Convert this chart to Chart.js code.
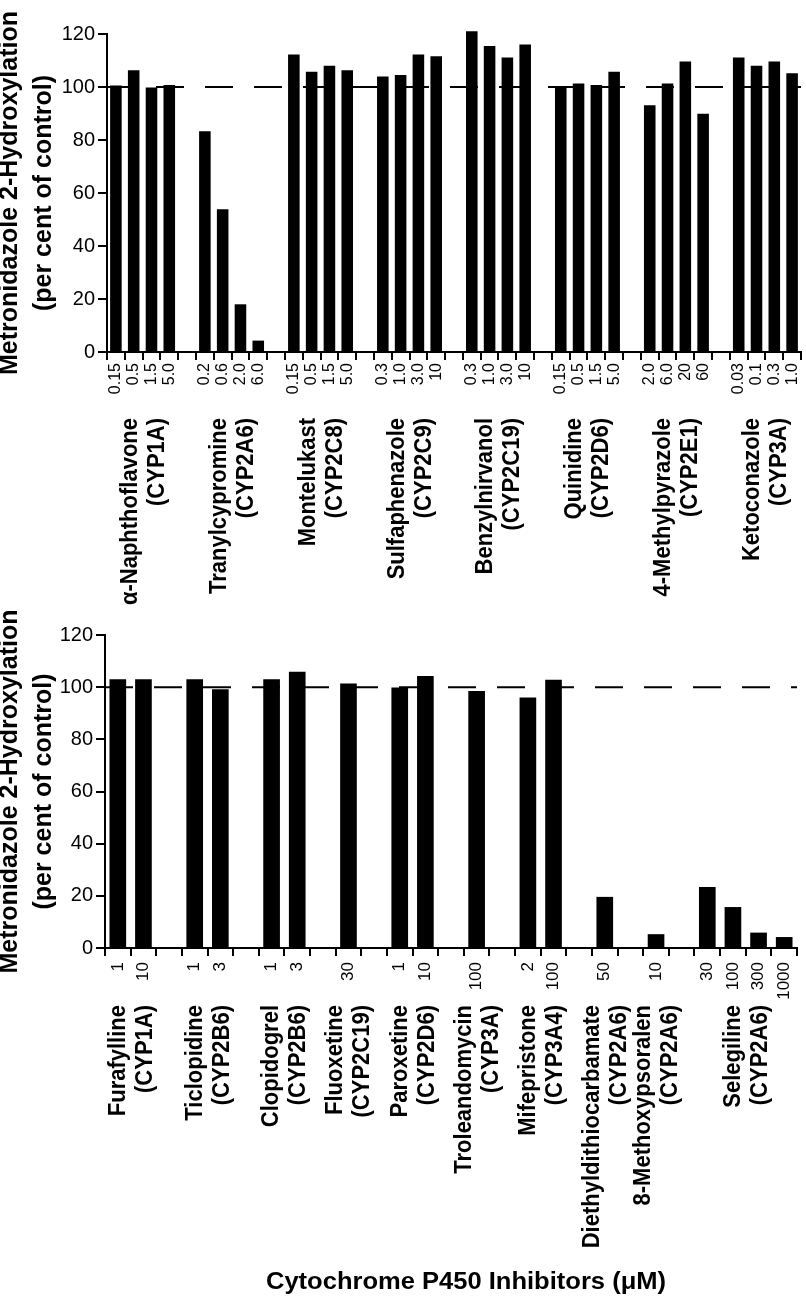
<!DOCTYPE html>
<html>
<head>
<meta charset="utf-8">
<script src="https://cdn.jsdelivr.net/npm/chart.js@4.4.1/dist/chart.umd.min.js"></script>
<style>
  html, body { margin: 0; padding: 0; background: #fff; }
  #wrap { position: relative; width: 806px; height: 1303px; }
  #topBox { position: absolute; left: 0; top: 0; width: 806px; height: 620px; }
  #botBox { position: absolute; left: 0; top: 590px; width: 806px; height: 713px; }
</style>
</head>
<body>
<div id="wrap">
  <div id="topBox"><canvas id="topChart" width="806" height="620"></canvas></div>
  <div id="botBox"><canvas id="botChart" width="806" height="713"></canvas></div>
</div>
<script>
// ---- data: upper panel ----
const topInhibitors = ['α-Naphthoflavone', 'Tranylcypromine', 'Montelukast', 'Sulfaphenazole',
                       'Benzylnirvanol', 'Quinidine', '4-Methylpyrazole', 'Ketoconazole'];
const topEnzymes = ['(CYP1A)', '(CYP2A6)', '(CYP2C8)', '(CYP2C9)', '(CYP2C19)', '(CYP2D6)', '(CYP2E1)', '(CYP3A)'];
const topDoses = [
  ['0.15', '0.5', '1.5', '5.0'],
  ['0.2', '0.6', '2.0', '6.0'],
  ['0.15', '0.5', '1.5', '5.0'],
  ['0.3', '1.0', '3.0', '10'],
  ['0.3', '1.0', '3.0', '10'],
  ['0.15', '0.5', '1.5', '5.0'],
  ['2.0', '6.0', '20', '60'],
  ['0.03', '0.1', '0.3', '1.0']
];
const topValues = [
  [100.6, 106.3, 99.8, 100.8],
  [83.3, 53.9, 18.0, 4.3],
  [112.3, 105.8, 108.0, 106.3],
  [104.0, 104.5, 112.3, 111.6],
  [121.0, 115.5, 111.1, 116.0],
  [100.2, 101.3, 100.8, 105.8],
  [93.1, 101.3, 109.6, 89.9],
  [111.1, 108.0, 109.6, 105.2]
];

// ---- data: lower panel ----
const bottomInhibitors = ['Furafylline', 'Ticlopidine', 'Clopidogrel', 'Fluoxetine', 'Paroxetine',
                          'Troleandomycin', 'Mifepristone', 'Diethyldithiocarbamate', '8-Methoxypsoralen', 'Selegiline'];
const bottomEnzymes = ['(CYP1A)', '(CYP2B6)', '(CYP2B6)', '(CYP2C19)', '(CYP2D6)',
                       '(CYP3A)', '(CYP3A4)', '(CYP2A6)', '(CYP2A6)', '(CYP2A6)'];
const bottomDoses = [['1', '10'], ['1', '3'], ['1', '3'], ['30'], ['1', '10'],
                     ['100'], ['2', '100'], ['50'], ['10'], ['30', '100', '300', '1000']];
const bottomValues = [[103.0, 103.0], [103.0, 99.2], [103.0, 105.9], [101.4], [99.9, 104.3],
                      [98.5], [96.0, 102.8], [19.6], [5.3], [23.4, 15.7, 5.9, 4.2]];

const yTicks = [0, 20, 40, 60, 80, 100, 120];
const controlLevel = 100;
const yTitle = ['Metronidazole 2-Hydroxylation', '(per cent of control)'];
const xTitle = 'Cytochrome P450 Inhibitors (\u03bcM)';

const FONT = '"Liberation Sans", Arial, Helvetica, sans-serif';

// flatten groups into one category axis, one empty slot between groups
function layoutGroups(doses, values) {
  const labels = [], data = [], spans = [];
  doses.forEach((d, g) => {
    if (g > 0) { labels.push(''); data.push(null); }
    const first = labels.length;
    d.forEach((lab, i) => { labels.push(lab); data.push(values[g][i]); });
    spans.push([first, labels.length - 1]);
  });
  return { labels, data, spans };
}

// dashed 100% line behind the bars
const controlLine = {
  id: 'controlLine',
  beforeDatasetsDraw(chart) {
    const { ctx, chartArea, scales } = chart;
    const y = scales.y.getPixelForValue(controlLevel);
    ctx.save();
    ctx.strokeStyle = '#000';
    ctx.lineWidth = 2;
    ctx.setLineDash([28, 21]);
    ctx.beginPath();
    ctx.moveTo(chartArea.left, y);
    ctx.lineTo(chartArea.right, y);
    ctx.stroke();
    ctx.restore();
  }
};

// rotated y-axis title, two lines
const yTitlePlugin = {
  id: 'yTitlePlugin',
  afterDraw(chart) {
    const { ctx, chartArea } = chart;
    const cy = (chartArea.top + chartArea.bottom) / 2;
    ctx.save();
    ctx.fillStyle = '#000';
    ctx.font = 'bold 25px ' + FONT;
    ctx.textAlign = 'center';
    ctx.textBaseline = 'alphabetic';
    [17, 51].forEach((bx, i) => {
      ctx.save();
      ctx.translate(bx, cy);
      ctx.rotate(-Math.PI / 2);
      ctx.fillText(yTitle[i], 0, 0);
      ctx.restore();
    });
    ctx.restore();
  }
};

// inhibitor name + enzyme under each group, rotated
function groupLabelPlugin(names, enzymes, spans, topY) {
  return {
    id: 'groupLabels',
    afterDraw(chart) {
      const { ctx } = chart;
      const x = chart.scales.x;
      ctx.save();
      ctx.fillStyle = '#000';
      ctx.font = 'bold 22px ' + FONT;
      ctx.textAlign = 'right';
      ctx.textBaseline = 'alphabetic';
      spans.forEach((s, g) => {
        const cx = (x.getPixelForValue(s[0]) + x.getPixelForValue(s[1])) / 2;
        [[names[g], cx - 6], [enzymes[g], cx + 21]].forEach(([txt, bx]) => {
          ctx.save();
          ctx.translate(bx, topY);
          ctx.scale(1.1, 1);
          ctx.rotate(-Math.PI / 2);
          ctx.fillText(txt, 0, 0);
          ctx.restore();
        });
      });
      ctx.restore();
    }
  };
}

const xTitlePlugin = {
  id: 'xTitlePlugin',
  afterDraw(chart) {
    const { ctx } = chart;
    ctx.save();
    ctx.fillStyle = '#000';
    ctx.font = 'bold 23px ' + FONT;
    ctx.textAlign = 'center';
    ctx.textBaseline = 'alphabetic';
    ctx.translate(466, 699);
    ctx.scale(1.11, 1);
    ctx.fillText(xTitle, 0, 0);
    ctx.restore();
  }
};

function makeChart(id, built, cfg, extraPlugins) {
  return new Chart(document.getElementById(id), {
    type: 'bar',
    data: {
      labels: built.labels,
      datasets: [{
        data: built.data,
        backgroundColor: '#000',
        borderWidth: 0,
        barPercentage: 0.65,
        categoryPercentage: 1,
        clip: false
      }]
    },
    options: {
      responsive: false,
      animation: false,
      devicePixelRatio: 1,
      layout: { padding: { top: cfg.top, right: cfg.right, left: 0, bottom: 0 } },
      plugins: {
        legend: { display: false },
        tooltip: { enabled: false }
      },
      scales: {
        x: {
          offset: true,
          grid: {
            offset: true,
            drawOnChartArea: false,
            drawTicks: true,
            tickLength: 8,
            color: '#000',
            lineWidth: 2
          },
          border: { display: true, color: '#000', width: 2 },
          ticks: {
            autoSkip: false,
            minRotation: 90,
            maxRotation: 90,
            padding: cfg.xPad,
            color: '#000',
            font: { family: FONT, size: cfg.xFont }
          },
          afterFit(s) {
            s.height = cfg.xHeight;
            s.paddingLeft = 0;
            s.paddingRight = 0;
          }
        },
        y: {
          min: 0,
          max: 120,
          afterBuildTicks(s) { s.ticks = yTicks.map(v => ({ value: v })); },
          grid: {
            drawOnChartArea: false,
            drawTicks: true,
            tickLength: 9,
            color: '#000',
            lineWidth: 2
          },
          border: { display: true, color: '#000', width: 2 },
          ticks: {
            padding: 3,
            color: '#000',
            font: { family: FONT, size: 20 }
          },
          afterFit(s) { s.width = cfg.yWidth; }
        }
      }
    },
    plugins: [controlLine, yTitlePlugin].concat(extraPlugins)
  });
}

const topBuilt = layoutGroups(topDoses, topValues);
const bottomBuilt = layoutGroups(bottomDoses, bottomValues);

makeChart('topChart', topBuilt,
  { top: 34, right: 5, yWidth: 107, xHeight: 268, xPad: 3, xFont: 16 },
  [groupLabelPlugin(topInhibitors, topEnzymes, topBuilt.spans, 418)]);

makeChart('botChart', bottomBuilt,
  { top: 45, right: 9, yWidth: 105, xHeight: 355, xPad: 6, xFont: 17 },
  [groupLabelPlugin(bottomInhibitors, bottomEnzymes, bottomBuilt.spans, 415), xTitlePlugin]);
</script>
</body>
</html>
